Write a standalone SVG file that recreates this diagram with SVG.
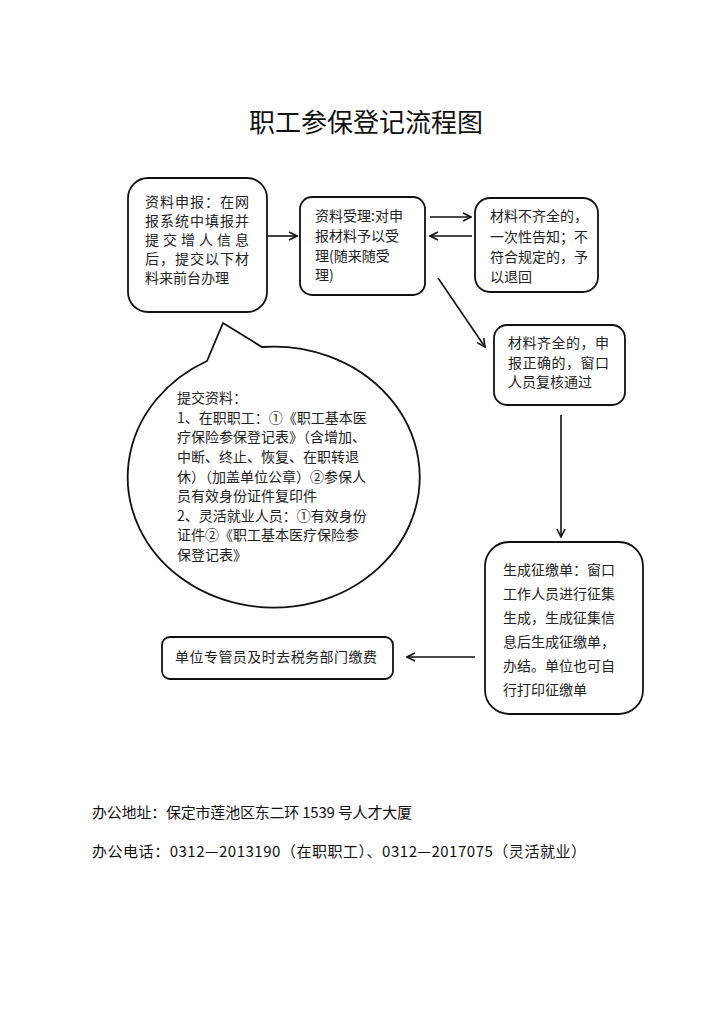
<svg xmlns="http://www.w3.org/2000/svg" width="712" height="1025" viewBox="0 0 712 1025">
<style>
.bg{fill:#ffffff}
.box{fill:#ffffff;stroke:#111;stroke-width:1.8}
.t{font-family:"Noto Sans CJK SC","Noto Sans",sans-serif;font-size:14px;fill:#222}
.title{font-family:"Noto Sans CJK SC","Noto Sans",sans-serif;font-size:26px;fill:#111}
.foot{font-family:"Noto Sans CJK SC","Noto Sans",sans-serif;font-size:15px;fill:#111}
.edge{stroke:#111;stroke-width:1.6;fill:none;marker-end:url(#ah)}
</style>
<defs>
<marker id="ah" viewBox="0 0 10 10" refX="9" refY="5" markerWidth="10" markerHeight="10" markerUnits="userSpaceOnUse" orient="auto">
<path d="M1,1 L9,5 L1,9" fill="none" stroke="#111" stroke-width="1.6"/>
</marker>
</defs>
<rect class="bg" x="0" y="0" width="712" height="1025"/>
<text class="title" x="366" y="132" text-anchor="middle">职工参保登记流程图</text>

<g id="n1">
<rect class="box" x="128" y="178" width="139" height="134" rx="20"/>
<text class="t" x="145" y="207" textLength="104" lengthAdjust="spacing">资料申报：在网</text>
<text class="t" x="145" y="226" textLength="104" lengthAdjust="spacing">报系统中填报并</text>
<text class="t" x="145" y="245" textLength="104" lengthAdjust="spacing">提交增人信息</text>
<text class="t" x="145" y="264" textLength="104" lengthAdjust="spacing">后，提交以下材</text>
<text class="t" x="145" y="283">料来前台办理</text>
</g>

<g id="n2">
<rect class="box" x="300" y="197" width="125" height="98" rx="12"/>
<text class="t" x="315" y="221">资料受理:对申</text>
<text class="t" x="315" y="241">报材料予以受</text>
<text class="t" x="315" y="261">理(随来随受</text>
<text class="t" x="315" y="280">理)</text>
</g>

<g id="n3">
<rect class="box" x="475" y="198" width="123" height="94" rx="15"/>
<text class="t" x="490" y="221">材料不齐全的，</text>
<text class="t" x="490" y="242">一次性告知；不</text>
<text class="t" x="490" y="262">符合规定的，予</text>
<text class="t" x="490" y="282">以退回</text>
</g>

<g id="n4">
<rect class="box" x="494" y="325" width="131" height="80" rx="13"/>
<text class="t" x="508" y="348" textLength="101" lengthAdjust="spacing">材料齐全的，申</text>
<text class="t" x="508" y="368" textLength="101" lengthAdjust="spacing">报正确的，窗口</text>
<text class="t" x="508" y="387">人员复核通过</text>
</g>

<g id="n5">
<rect class="box" x="485" y="542" width="158" height="172" rx="24"/>
<text class="t" x="503" y="575">生成征缴单：窗口</text>
<text class="t" x="503" y="599">工作人员进行征集</text>
<text class="t" x="503" y="623">生成，生成征集信</text>
<text class="t" x="503" y="647">息后生成征缴单，</text>
<text class="t" x="503" y="671">办结。单位也可自</text>
<text class="t" x="503" y="695">行打印征缴单</text>
</g>

<g id="n6">
<rect class="box" x="162" y="637" width="231" height="42" rx="8"/>
<text class="t" x="175" y="662" textLength="202" lengthAdjust="spacing">单位专管员及时去税务部门缴费</text>
</g>

<g id="n7">
<path class="box" d="M207,361 L223,323 L262,347 A146,130.5 0 1 1 207,361 Z" stroke-width="1.6"/>
<text class="t" x="177" y="403">提交资料：</text>
<text class="t" x="177" y="423">1、在职职工：①《职工基本医</text>
<text class="t" x="177" y="442">疗保险参保登记表》（含增加、</text>
<text class="t" x="177" y="462">中断、终止、恢复、在职转退</text>
<text class="t" x="177" y="482">休）（加盖单位公章）②参保人</text>
<text class="t" x="177" y="501">员有效身份证件复印件</text>
<text class="t" x="177" y="521">2、灵活就业人员：①有效身份</text>
<text class="t" x="177" y="540">证件②《职工基本医疗保险参</text>
<text class="t" x="177" y="560">保登记表》</text>
</g>

<g id="edges">
<line class="edge" x1="268" y1="236" x2="297" y2="236"/>
<line class="edge" x1="430" y1="217" x2="471" y2="217"/>
<line class="edge" x1="472" y1="236" x2="430" y2="236"/>
<line class="edge" x1="438" y1="278" x2="485" y2="347"/>
<line class="edge" x1="561" y1="415" x2="561" y2="537"/>
<line class="edge" x1="475" y1="657" x2="407" y2="657"/>
</g>

<text class="foot" x="92" y="818" textLength="320" lengthAdjust="spacing">办公地址：保定市莲池区东二环 1539 号人才大厦</text>
<text class="foot" x="92" y="857" textLength="494" lengthAdjust="spacing">办公电话：0312—2013190（在职职工）、0312—2017075（灵活就业）</text>
</svg>
